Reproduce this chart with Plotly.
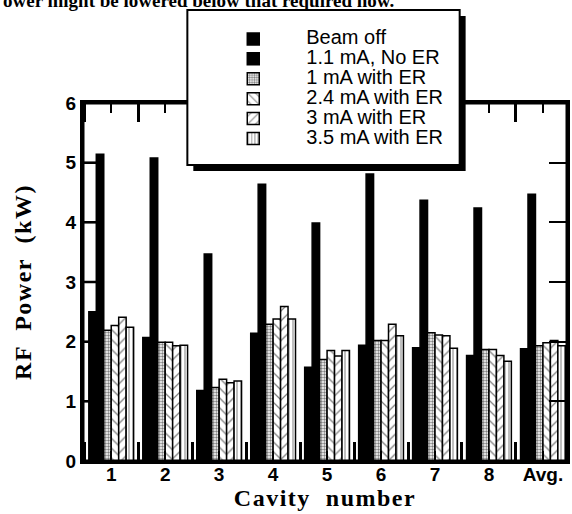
import plotly.graph_objects as go

# ---- data ----
categories = ["1", "2", "3", "4", "5", "6", "7", "8", "Avg."]
series_names = ["Beam off", "1.1 mA, No ER", "1 mA with ER",
                "2.4 mA with ER", "3 mA with ER", "3.5 mA with ER"]
beam_off = [2.50, 2.07, 1.18, 2.14, 1.57, 1.94, 1.90, 1.77, 1.88]
no_er_11 = [5.14, 5.08, 3.47, 4.64, 3.99, 4.81, 4.37, 4.24, 4.47]
er_1 = [2.19, 1.99, 1.23, 2.29, 1.70, 2.02, 2.15, 1.87, 1.93]
er_24 = [2.27, 1.99, 1.37, 2.38, 1.85, 2.02, 2.11, 1.87, 1.98]
er_3 = [2.41, 1.93, 1.31, 2.59, 1.76, 2.29, 2.10, 1.77, 2.02]
er_35 = [2.24, 1.94, 1.34, 2.38, 1.85, 2.10, 1.89, 1.67, 1.93]
y_ticks = [0, 1, 2, 3, 4, 5, 6]

# ---- layout geometry ----
W, H = 572, 514
ML, MR, MT, MB = 83, 2, 103, 53
PW, PH = W - ML - MR, H - MT - MB
YR = [0, 6]
XR = [-0.523, 8.446]


def px(x):
    return (x - ML) / PW


def py(y):
    return (H - MB - y) / PH


SANS = "Liberation Sans, Arial, Helvetica, sans-serif"
SERIF = "Liberation Serif, Times New Roman, serif"

styles = [
    dict(color="black", pattern=dict(shape="")),
    dict(color="black", pattern=dict(shape="")),
    dict(color="white", pattern=dict(shape=".", fgcolor="black", bgcolor="white",
                                     size=3, solidity=0.5)),
    dict(color="white", pattern=dict(shape="\\", fgcolor="black", bgcolor="white",
                                     size=7, solidity=0.18)),
    dict(color="white", pattern=dict(shape="/", fgcolor="black", bgcolor="white",
                                     size=7, solidity=0.18)),
    dict(color="white", pattern=dict(shape="|", fgcolor="black", bgcolor="white",
                                     size=4, solidity=0.25)),
]

xs = list(range(len(categories)))
fig = go.Figure()
for name, vals, st in zip(series_names,
                          [beam_off, no_er_11, er_1, er_24, er_3, er_35], styles):
    fig.add_trace(go.Bar(
        x=xs, y=vals,
        name='<span style="font-size:20px">' + name + '</span>',
        marker=dict(color=st["color"], pattern=st["pattern"],
                    line=dict(color="black", width=1.5)),
    ))

# plot frame and left-side inside ticks
shapes = [dict(type="rect", xref="paper", yref="paper", layer="above",
               x0=0, x1=1, y0=0, y1=1, line=dict(color="black", width=3))]
for v in y_ticks[1:-1]:
    yp = (v - YR[0]) / (YR[1] - YR[0])
    shapes.append(dict(type="line", xref="paper", yref="paper", layer="above",
                       x0=0, x1=18 / PW, y0=yp, y1=yp,
                       line=dict(color="black", width=2.5)))
# legend box with drop shadow
shapes += [
    dict(type="rect", xref="paper", yref="paper", layer="above",
         x0=px(194), x1=px(468), y0=py(171), y1=py(16),
         fillcolor="black", line=dict(width=0)),
    dict(type="rect", xref="paper", yref="paper", layer="above",
         x0=px(188), x1=px(462), y0=py(165), y1=py(10),
         fillcolor="white", line=dict(color="black", width=2)),
]

fig.update_layout(
    width=W, height=H,
    margin=dict(l=ML, r=MR, t=MT, b=MB),
    paper_bgcolor="white", plot_bgcolor="white",
    barmode="group", bargap=0.17, bargroupgap=0,
    showlegend=True,
    legend=dict(x=px(201), xanchor="left", y=py(24), yanchor="top",
                bgcolor="rgba(0,0,0,0)", borderwidth=0,
                font=dict(family=SANS, size=13, color="black"),
                itemwidth=96, tracegroupgap=0, traceorder="normal"),
    xaxis=dict(
        range=XR, tickmode="array", tickvals=xs,
        ticktext=["<b>" + c + "</b>" for c in categories],
        ticks="inside", ticklen=10, tickwidth=2, tickcolor="black",
        showgrid=False, zeroline=False, ticklabelstandoff=-6,
        showline=True, linecolor="black", linewidth=3, mirror="ticks",
        tickfont=dict(family=SANS, size=19, color="black"),
        minor=dict(tickmode="linear", tick0=0.5, dtick=1, ticks="inside",
                   ticklen=19, tickwidth=3, tickcolor="black", showgrid=False),
        title=dict(text='<b><span style="letter-spacing:1.5px">Cavity  number</span></b>',
                   standoff=5,
                   font=dict(family=SERIF, size=24, color="black")),
    ),
    yaxis=dict(
        range=YR, tickmode="array", tickvals=y_ticks,
        ticktext=["<b>%d</b>" % v for v in y_ticks],
        ticks="inside", ticklen=18, tickwidth=2, tickcolor="black",
        showgrid=False, zeroline=False,
        showline=True, linecolor="black", linewidth=3, mirror="ticks",
        tickfont=dict(family=SANS, size=19, color="black"),
        title=dict(text='<b><span style="letter-spacing:1.5px">RF  Power  (kW)</span></b>',
                   standoff=28,
                   font=dict(family=SERIF, size=24, color="black")),
    ),
    shapes=shapes,
    annotations=[
        dict(text="<b>ower might be lowered below that required now.</b>",
             xref="paper", yref="paper", x=px(0), y=py(0),
             xanchor="left", yanchor="middle", showarrow=False,
             font=dict(family=SERIF, size=19, color="black")),
    ],
)

fig.write_html("out.html",
               config={"displayModeBar": False},
               post_script="document.body.style.margin='0';"
                           "document.body.style.padding='0';")
